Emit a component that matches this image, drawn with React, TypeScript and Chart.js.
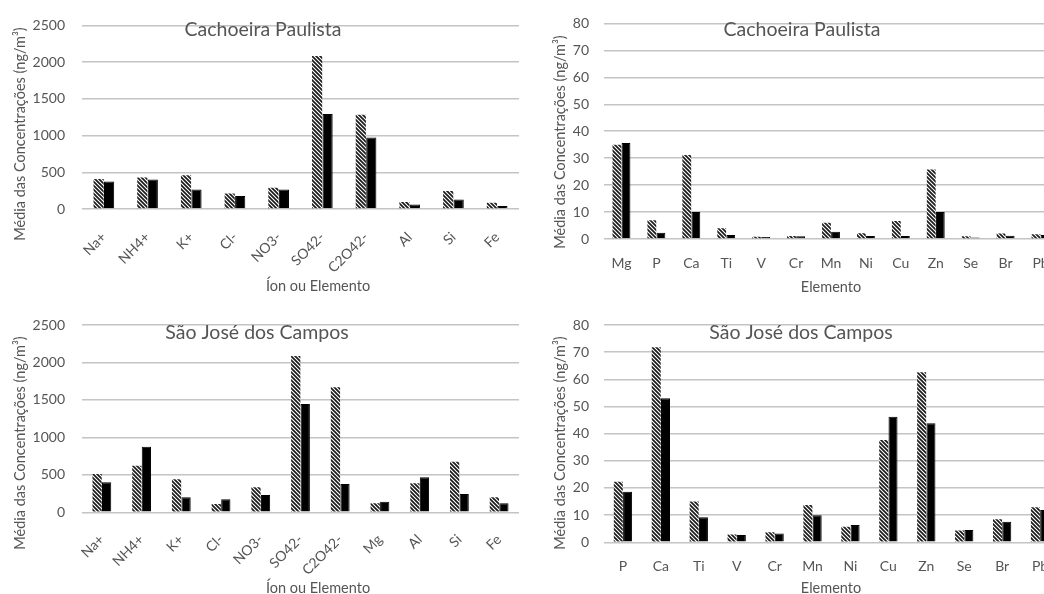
import React, { useEffect, useRef } from 'react';
import { Chart, registerables } from 'chart.js';

Chart.register(...registerables);

// ---------- DATA ----------
const ionCategoriesCP = ['Na+', 'NH4+', 'K+', 'Cl-', 'NO3-', 'SO42-', 'C2O42-', 'Al', 'Si', 'Fe'];
const ionHatchedCP = [410, 430, 460, 210, 290, 2085, 1285, 95, 245, 85];
const ionSolidCP = [375, 400, 265, 178, 265, 1295, 975, 62, 130, 42];

const elemCategoriesCP = ['Mg', 'P', 'Ca', 'Ti', 'V', 'Cr', 'Mn', 'Ni', 'Cu', 'Zn', 'Se', 'Br', 'Pb'];
const elemHatchedCP = [35, 7, 31.2, 4, 0.8, 1.1, 6, 2.1, 6.7, 25.8, 1, 2, 1.8];
const elemSolidCP = [35.6, 2.3, 10, 1.5, 0.7, 1, 2.7, 1.1, 1.1, 10, 0.6, 1.2, 1.5];

const ionCategoriesSJC = ['Na+', 'NH4+', 'K+', 'Cl-', 'NO3-', 'SO42-', 'C2O42-', 'Mg', 'Al', 'Si', 'Fe'];
const ionHatchedSJC = [510, 622, 440, 110, 333, 2087, 1669, 120, 387, 676, 200];
const ionSolidSJC = [400, 876, 200, 173, 231, 1446, 378, 142, 467, 244, 120];

const elemCategoriesSJC = ['P', 'Ca', 'Ti', 'V', 'Cr', 'Mn', 'Ni', 'Cu', 'Zn', 'Se', 'Br', 'Pb'];
const elemHatchedSJC = [22.3, 71.8, 15, 2.9, 3.7, 13.7, 5.7, 37.7, 62.6, 4.3, 8.5, 12.9];
const elemSolidSJC = [18.6, 53, 9.2, 2.7, 3.2, 10, 6.4, 46.2, 43.8, 4.5, 7.6, 11.9];

const ionAxisMax = 2500;
const ionAxisStep = 500;
const elemAxisMax = 80;
const elemAxisStep = 10;

const titleCP = 'Cachoeira Paulista';
const titleSJC = 'São José dos Campos';
const yAxisTitle = 'Média das Concentrações (ng/m³)';
const xTitleIons = 'Íon ou Elemento';
const xTitleElems = 'Elemento';

// ---------- STYLE ----------
const FONT = 'Lato, "Open Sans", sans-serif';
const TEXT = '#555555';
const GRID = '#c4c4c4';

function makeHatch(): CanvasPattern | string {
  const c = document.createElement('canvas');
  c.width = 4;
  c.height = 4;
  const g = c.getContext('2d');
  if (!g) return '#888';
  g.fillStyle = '#ffffff';
  g.fillRect(0, 0, 4, 4);
  g.strokeStyle = '#1a1a1a';
  g.lineWidth = 1.7;
  g.beginPath();
  g.moveTo(-1, -1); g.lineTo(5, 5);
  g.moveTo(-1, 3); g.lineTo(1, 5);
  g.moveTo(3, -1); g.lineTo(5, 1);
  g.stroke();
  return g.createPattern(c, 'repeat') || '#888';
}

const panelText = {
  id: 'panelText',
  afterDraw(chart: any, _args: any, o: any) {
    const ctx = chart.ctx;
    ctx.save();
    ctx.fillStyle = TEXT;
    ctx.textAlign = 'center';
    ctx.textBaseline = 'middle';
    ctx.font = `${o.titleSize}px ${FONT}`;
    ctx.fillText(o.title, o.titleX, o.titleY);
    ctx.font = `${o.axisSize}px ${FONT}`;
    ctx.fillText(o.xTitle, o.xTitleX, o.xTitleY);
    ctx.translate(o.yTitleX, o.yTitleY);
    ctx.rotate(-Math.PI / 2);
    ctx.fillText(o.yTitle, 0, 0);
    ctx.restore();
  },
};

interface PanelProps {
  labels: string[];
  hatched: number[];
  solid: number[];
  max: number;
  step: number;
  width: number;
  height: number;
  left: number;
  top: number;
  padTop: number;
  padRight: number;
  yWidth: number;
  xHeight: number;
  rotation: number;
  catPct: number;
  tickPadY: number;
  tickPadX: number;
  text: any;
}

function Panel(p: PanelProps) {
  const ref = useRef<HTMLCanvasElement>(null);
  useEffect(() => {
    if (!ref.current) return;
    const hatch = makeHatch();
    const chart = new Chart(ref.current, {
      type: 'bar',
      data: {
        labels: p.labels,
        datasets: [
          {
            label: 'A',
            data: p.hatched,
            backgroundColor: hatch as any,
            borderWidth: 0,
            categoryPercentage: p.catPct,
            barPercentage: 0.97,
          },
          {
            label: 'B',
            data: p.solid,
            backgroundColor: '#000000',
            borderColor: '#000000',
            borderWidth: 1,
            categoryPercentage: p.catPct,
            barPercentage: 0.97,
          },
        ],
      },
      options: {
        animation: false,
        responsive: false,
        devicePixelRatio: 1,
        layout: { padding: { left: 0, top: p.padTop, right: p.padRight, bottom: 0 } },
        plugins: {
          legend: { display: false },
          tooltip: { enabled: false },
          title: { display: false },
          panelText: p.text,
        } as any,
        scales: {
          x: {
            grid: { display: false },
            border: { display: false },
            ticks: {
              color: TEXT,
              font: { family: FONT, size: 14 },
              minRotation: p.rotation,
              maxRotation: p.rotation,
              autoSkip: false,
              padding: p.tickPadX,
            },
            afterFit: (s: any) => { s.height = p.xHeight; },
          },
          y: {
            min: 0,
            max: p.max,
            ticks: {
              stepSize: p.step,
              color: TEXT,
              font: { family: FONT, size: 14 },
              padding: p.tickPadY,
              callback: (v: any) => String(v),
            },
            grid: { color: GRID, lineWidth: 1.5, drawTicks: false },
            border: { display: false },
            afterFit: (s: any) => { s.width = p.yWidth; },
          },
        },
      },
      plugins: [panelText as any],
    });
    return () => chart.destroy();
  }, []);
  return (
    <div style={{ position: 'absolute', left: p.left, top: p.top, width: p.width, height: p.height }}>
      <canvas ref={ref} width={p.width} height={p.height} style={{ display: 'block' }} />
    </div>
  );
}

export default function App() {
  return (
    <div style={{ position: 'absolute', left: 0, top: 0, width: 1044, height: 594, overflow: 'hidden', background: '#fff' }}>
      <Panel
        labels={ionCategoriesCP} hatched={ionHatchedCP} solid={ionSolidCP}
        max={ionAxisMax} step={ionAxisStep}
        left={0} top={0} width={530} height={297}
        padTop={21.7} padRight={11} yWidth={82} xHeight={88}
        rotation={45} catPct={0.48} tickPadY={17} tickPadX={12}
        text={{ title: titleCP, titleX: 263, titleY: 30, titleSize: 19.5, xTitle: xTitleIons, xTitleX: 318, xTitleY: 286, yTitle: yAxisTitle, yTitleX: 20, yTitleY: 134, axisSize: 14.5 }}
      />
      <Panel
        labels={elemCategoriesCP} hatched={elemHatchedCP} solid={elemSolidCP}
        max={elemAxisMax} step={elemAxisStep}
        left={530} top={0} width={560} height={297}
        padTop={21.7} padRight={32} yWidth={74} xHeight={58}
        rotation={0} catPct={0.52} tickPadY={15} tickPadX={8}
        text={{ title: titleCP, titleX: 272, titleY: 30, titleSize: 19.5, xTitle: xTitleElems, xTitleX: 301, xTitleY: 287, yTitle: yAxisTitle, yTitleX: 30, yTitleY: 142, axisSize: 14.5 }}
      />
      <Panel
        labels={ionCategoriesSJC} hatched={ionHatchedSJC} solid={ionSolidSJC}
        max={ionAxisMax} step={ionAxisStep}
        left={0} top={297} width={530} height={297}
        padTop={28} padRight={11} yWidth={82} xHeight={81.7}
        rotation={45} catPct={0.48} tickPadY={17} tickPadX={11}
        text={{ title: titleSJC, titleX: 257, titleY: 36, titleSize: 19.5, xTitle: xTitleIons, xTitleX: 318, xTitleY: 291, yTitle: yAxisTitle, yTitleX: 20, yTitleY: 146, axisSize: 14.5 }}
      />
      <Panel
        labels={elemCategoriesSJC} hatched={elemHatchedSJC} solid={elemSolidSJC}
        max={elemAxisMax} step={elemAxisStep}
        left={530} top={297} width={560} height={297}
        padTop={28} padRight={31} yWidth={74} xHeight={51.7}
        rotation={0} catPct={0.49} tickPadY={15} tickPadX={8}
        text={{ title: titleSJC, titleX: 271, titleY: 36, titleSize: 19.5, xTitle: xTitleElems, xTitleX: 301, xTitleY: 291, yTitle: yAxisTitle, yTitleX: 30, yTitleY: 146, axisSize: 14.5 }}
      />
    </div>
  );
}
